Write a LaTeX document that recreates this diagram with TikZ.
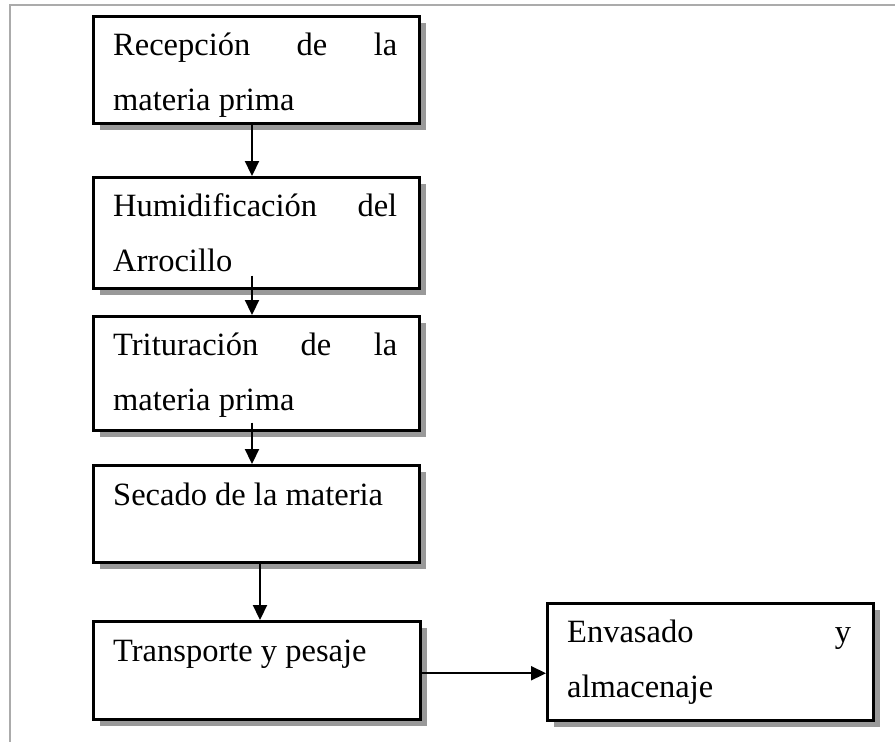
\documentclass[tikz,border=0pt]{standalone}
\usepackage{fontspec}
\setmainfont{Liberation Serif}
\usetikzlibrary{shadows,arrows.meta,calc}
\hyphenpenalty=10000
\exhyphenpenalty=10000
\begin{document}
\begin{tikzpicture}[x=1pt,y=-1pt,
 box/.style={draw=black,line width=2.5pt,fill=white,rectangle,inner sep=0pt,anchor=north west,
   drop shadow={shadow xshift=6.5pt,shadow yshift=-6.5pt,fill=black!40,opacity=1}},
 lbl/.style={anchor=base west,text width=284pt,align=justify,inner sep=0pt,font=\fontsize{32.5}{55}\selectfont},
 arr/.style={line width=2.2pt,-{Triangle[length=15pt,width=14pt]}}]
\useasboundingbox (0,0) rectangle (895,742);
\draw[black!33,line width=2.5pt] (10,742) -- (10,5) -- (895,5);

\node[box,minimum width=326pt,minimum height=107pt] (b1) at (92,15) {};
\node[box,minimum width=326pt,minimum height=111pt] (b2) at (92,176) {};
\node[box,minimum width=326pt,minimum height=114pt] (b3) at (92,315) {};
\node[box,minimum width=326pt,minimum height=97pt] (b4) at (92,464) {};
\node[box,minimum width=327pt,minimum height=98pt] (b5) at (92,620) {};
\node[box,minimum width=326pt,minimum height=117pt] (b6) at (546,602) {};

\node[lbl] (t1) at ($(b1.north west)+(21,40)$) {Recepción\hfill de\hfill la\\materia prima};
\node[lbl] (t2) at ($(b2.north west)+(21,40)$) {Humidificación\hfill del\\Arrocillo};
\node[lbl] (t3) at ($(b3.north west)+(21,40)$) {Trituración\hfill de\hfill la\\materia prima};
\node[lbl] (t4) at ($(b4.north west)+(21,41)$) {Secado de la materia};
\node[lbl] (t5) at ($(b5.north west)+(21,41)$) {Transporte y pesaje};
\node[lbl] (t6) at ($(b6.north west)+(21,40)$) {Envasado\hfill y\\almacenaje};

\coordinate (c1) at ($(b1.south west)+(160,0)$);
\coordinate (c2) at ($(b2.south west)+(160,-14)$);
\coordinate (c3) at ($(b3.south west)+(160,-9)$);
\coordinate (c4) at ($(b4.south west)+(168,0)$);
\coordinate (c5) at ($(b5.east)+(0,3)$);
\draw[arr] (c1) -- (c1 |- b2.north);
\draw[arr] (c2) -- (c2 |- b3.north);
\draw[arr] (c3) -- (c3 |- b4.north);
\draw[arr] (c4) -- (c4 |- b5.north);
\draw[arr] (c5) -- (c5 -| b6.west);
\end{tikzpicture}
\end{document}
